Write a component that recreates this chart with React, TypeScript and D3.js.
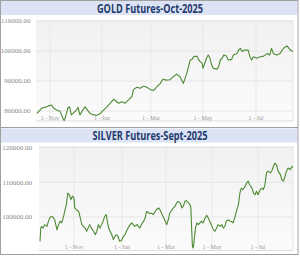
import React from "react";
import * as d3 from "d3";

const goldTitle = "GOLD Futures-Oct-2025";
const goldDates = [
  "2024-10-15","2024-10-21","2024-10-25","2024-10-30","2024-11-03","2024-11-05","2024-11-09","2024-11-13","2024-11-17","2024-11-18",
  "2024-11-22","2024-11-24","2024-11-26","2024-12-02","2024-12-04","2024-12-06","2024-12-12","2024-12-18","2024-12-22","2024-12-26",
  "2024-12-30","2025-01-03","2025-01-07","2025-01-11","2025-01-15","2025-01-21","2025-01-25","2025-01-29","2025-02-02","2025-02-06",
  "2025-02-08","2025-02-12","2025-02-16","2025-02-20","2025-02-24","2025-02-28","2025-03-04","2025-03-08","2025-03-12","2025-03-15",
  "2025-03-19","2025-03-23","2025-03-27","2025-03-31","2025-04-04","2025-04-08","2025-04-12","2025-04-14","2025-04-16","2025-04-18",
  "2025-04-20","2025-04-24","2025-04-26","2025-04-28","2025-04-30","2025-05-01","2025-05-03","2025-05-05","2025-05-07","2025-05-09",
  "2025-05-11","2025-05-13","2025-05-17","2025-05-19","2025-05-21","2025-05-23","2025-05-25","2025-05-28","2025-05-30","2025-06-03",
  "2025-06-05","2025-06-09","2025-06-11","2025-06-13","2025-06-15","2025-06-18","2025-06-22","2025-06-24","2025-06-26","2025-06-28",
  "2025-07-02","2025-07-06","2025-07-10","2025-07-14","2025-07-17","2025-07-19","2025-07-21","2025-07-25","2025-07-29","2025-08-02",
  "2025-08-06","2025-08-10","2025-08-13"
];
const goldValues = [
  79200,80900,81200,81700,82000,81000,80300,79800,77000,76900,
  81000,81400,78700,80300,81200,78700,81400,79200,78700,78600,
  79200,80300,81400,82600,83900,82600,83100,82600,83700,84800,
  87200,87900,87600,88300,87900,87200,86800,88100,89200,90600,
  90300,90400,91400,92300,91400,89200,92600,94800,97000,97200,
  98100,98300,97000,96400,95900,94200,95900,97600,98700,97600,
  95300,94200,93900,94800,97000,97600,98700,98300,97000,97200,
  98700,99200,100300,100900,99800,100300,100300,98100,97000,98100,
  97600,98100,98300,99200,98700,100900,99200,98700,99200,100900,
  101700,100300,99800
];
const goldTicks = [80000, 90000, 100000, 110000];

const silverTitle = "SILVER Futures-Sept-2025";
const silverDates = [
  "2024-09-18","2024-09-19","2024-09-20","2024-09-22","2024-09-24","2024-09-27","2024-09-29","2024-10-01","2024-10-03","2024-10-05",
  "2024-10-07","2024-10-10","2024-10-12","2024-10-14","2024-10-16","2024-10-18","2024-10-20","2024-10-22","2024-10-24","2024-10-26",
  "2024-10-28","2024-10-30","2024-11-01","2024-11-02","2024-11-04","2024-11-07","2024-11-09","2024-11-11","2024-11-13","2024-11-15",
  "2024-11-17","2024-11-19","2024-11-21","2024-11-23","2024-11-26","2024-11-28","2024-11-30","2024-12-02","2024-12-04","2024-12-06",
  "2024-12-08","2024-12-10","2024-12-12","2024-12-13","2024-12-15","2024-12-17","2024-12-19","2024-12-21","2024-12-23","2024-12-25",
  "2024-12-27","2024-12-29","2024-12-31","2025-01-03","2025-01-05","2025-01-07","2025-01-09","2025-01-12","2025-01-14","2025-01-16",
  "2025-01-18","2025-01-21","2025-01-23","2025-01-25","2025-01-27","2025-01-30","2025-02-01","2025-02-03","2025-02-05","2025-02-07",
  "2025-02-10","2025-02-12","2025-02-16","2025-02-19","2025-02-21","2025-02-23","2025-02-25","2025-02-28","2025-03-02","2025-03-04",
  "2025-03-06","2025-03-09","2025-03-11","2025-03-13","2025-03-15","2025-03-17","2025-03-20","2025-03-22","2025-03-24","2025-03-26",
  "2025-03-28","2025-03-31","2025-04-02","2025-04-03","2025-04-04","2025-04-05","2025-04-06","2025-04-07","2025-04-09","2025-04-11",
  "2025-04-13","2025-04-15","2025-04-17","2025-04-19","2025-04-22","2025-04-24","2025-04-26","2025-04-28","2025-04-30","2025-05-03",
  "2025-05-05","2025-05-07","2025-05-09","2025-05-12","2025-05-14","2025-05-16","2025-05-18","2025-05-20","2025-05-23","2025-05-25",
  "2025-05-27","2025-05-29","2025-05-31","2025-06-03","2025-06-05","2025-06-07","2025-06-09","2025-06-11","2025-06-14","2025-06-16",
  "2025-06-18","2025-06-20","2025-06-23","2025-06-25","2025-06-27","2025-06-29","2025-07-01","2025-07-04","2025-07-06","2025-07-08",
  "2025-07-10","2025-07-12","2025-07-14","2025-07-17","2025-07-19","2025-07-21","2025-07-23","2025-07-25","2025-07-27","2025-07-30",
  "2025-08-01","2025-08-03","2025-08-05","2025-08-07","2025-08-09","2025-08-12","2025-08-14","2025-08-15"
];
const silverValues = [
  93000,96800,97300,96800,97800,97300,98800,99900,100200,99900,
  99200,96300,97800,98800,98300,99700,101600,103500,106900,106400,
  105000,106000,105500,102600,102100,101600,99700,97800,97300,96800,
  95900,96800,97800,96800,95900,94900,95900,97800,96800,97800,
  98800,100200,100700,99200,96800,95900,94900,93500,94400,94900,
  94400,93000,93200,94400,94900,95900,96800,97800,98300,97800,
  97300,97800,97300,96800,97800,98800,99700,101600,101400,101000,
  101100,100700,102100,102600,102100,101100,100200,98800,97800,99200,
  101100,102100,102600,103100,104000,104500,104000,102600,103100,104500,
  104700,104000,103500,102600,96800,91600,91100,92500,96800,98300,
  97800,98300,98800,98300,99700,100500,99700,98800,97800,96300,
  95900,96800,97800,97300,97800,96800,97300,98800,99200,98800,
  98700,98300,99700,102100,103500,106900,108300,107900,108800,109800,
  110300,109300,108300,106900,106400,107400,106400,107900,108300,107900,
  109300,112700,113200,112700,113300,114600,115500,115000,113200,112200,
  110700,110300,111700,113200,114100,113600,114600,114300
];
const silverTicks = [100000, 110000, 120000];

const monthTicks = ["2024-11-01", "2025-01-01", "2025-03-01", "2025-05-01", "2025-07-01"];

const parse = d3.timeParse("%Y-%m-%d");
const fmtMonth = d3.timeFormat("%b");
const fmtVal = d3.format(".2f");

type PanelProps = {
  id: string;
  top: number;
  title: string;
  titleWidth: number;
  dates: string[];
  values: number[];
  yTicks: number[];
  xStart: string;
  xEnd: string;
  xRange: number[];
  yDomain: number[];
  yRange: number[];
  plot: { x0: number; x1: number; y0: number; y1: number };
  labelRight: number;
  xLabelY: number;
};

function Panel(p: PanelProps) {
  const domain = [p.xStart, ...monthTicks, p.xEnd].map((s) => parse(s) as Date);
  const x = d3.scaleTime().domain(domain).range(p.xRange);
  const y = d3.scaleLinear().domain(p.yDomain).range(p.yRange);
  const pts = p.dates.map((d, i) => [parse(d) as Date, p.values[i]] as [Date, number]);
  const line = d3
    .line<[Date, number]>()
    .x((d) => x(d[0]))
    .y((d) => y(d[1]))
    .curve(d3.curveLinear);
  const ticks = monthTicks.map((s) => parse(s) as Date);
  const { x0, x1, y0, y1 } = p.plot;
  return (
    <g>
      <defs>
        <linearGradient id={`bg-${p.id}`} x1="0" y1="0" x2="0" y2="1">
          <stop offset="0%" stopColor="#f1f1f1" />
          <stop offset="100%" stopColor="#fbfbfb" />
        </linearGradient>
      </defs>
      <rect x={1} y={p.top} width={296.5} height={14} fill="#dce3f4" />
      <text
        x={150}
        y={p.top + 11.5}
        textAnchor="middle"
        fontFamily="'Open Sans', 'Liberation Sans', sans-serif"
        fontWeight={700}
        fontSize={12}
        fill="#1f3a6c"
        textLength={p.titleWidth}
        lengthAdjust="spacingAndGlyphs"
      >
        {p.title}
      </text>
      <rect x={x0} y={y0} width={x1 - x0} height={y1 - y0} fill={`url(#bg-${p.id})`} />
      {p.yTicks.map((t) => (
        <line key={t} x1={x0} x2={x1} y1={y(t)} y2={y(t)} stroke="#e2e2e2" strokeWidth={0.8} />
      ))}
      {ticks.map((t, i) => (
        <line key={i} x1={x(t)} x2={x(t)} y1={y0} y2={y1} stroke="#e6e6e6" strokeWidth={0.8} />
      ))}
      <line x1={x0} x2={x1} y1={y1} y2={y1} stroke="#d4d4d4" strokeWidth={0.8} />
      <line x1={x1} x2={x1} y1={y0} y2={y1} stroke="#e0e0e0" strokeWidth={0.8} />
      {p.yTicks.map((t) => (
        <text
          key={t}
          x={p.labelRight}
          y={y(t) + 2.3}
          textAnchor="end"
          fontFamily="'Liberation Serif', serif"
          fontSize={7}
          fill="#8a8a8a"
        >
          {fmtVal(t)}
        </text>
      ))}
      {ticks.map((t, i) => (
        <text
          key={i}
          x={x(t)}
          y={p.xLabelY}
          textAnchor="middle"
          fontFamily="'Liberation Serif', serif"
          fontSize={6}
          fill="#999"
        >
          {`1 - ${fmtMonth(t)}`}
        </text>
      ))}
      <path d={line(pts) || ""} fill="none" stroke="#4d8a33" strokeWidth={1.1} strokeLinejoin="round" />
    </g>
  );
}

export default function App() {
  return (
    <svg
      width={300}
      height={256}
      style={{ position: "fixed", left: 0, top: 0, background: "#fff" }}
    >
      <rect x={0} y={0} width={300} height={256} fill="#fff" />
      <Panel
        id="gold"
        top={1}
        title={goldTitle}
        titleWidth={106}
        dates={goldDates}
        values={goldValues}
        yTicks={goldTicks}
        xStart="2024-10-15"
        xEnd="2025-08-13"
        xRange={[37, 50, 102, 151, 203, 256, 293]}
        yDomain={[80000, 110000]}
        yRange={[111, 21]}
        plot={{ x0: 36, x1: 293, y0: 20, y1: 121 }}
        labelRight={30.5}
        xLabelY={119.5}
      />
      <Panel
        id="silver"
        top={128.5}
        title={silverTitle}
        titleWidth={115}
        dates={silverDates}
        values={silverValues}
        yTicks={silverTicks}
        xStart="2024-09-18"
        xEnd="2025-08-15"
        xRange={[40, 74, 122, 166, 212, 258, 292.7]}
        yDomain={[100000, 120000]}
        yRange={[217, 147.5]}
        plot={{ x0: 39, x1: 293, y0: 146, y1: 250.5 }}
        labelRight={32}
        xLabelY={249}
      />
      <line x1={0.5} x2={298} y1={127.5} y2={127.5} stroke="#a0a0a0" strokeWidth={1} />
      <rect x={0.5} y={0.5} width={297.5} height={254} fill="none" stroke="#a0a0a0" strokeWidth={1} />
    </svg>
  );
}
